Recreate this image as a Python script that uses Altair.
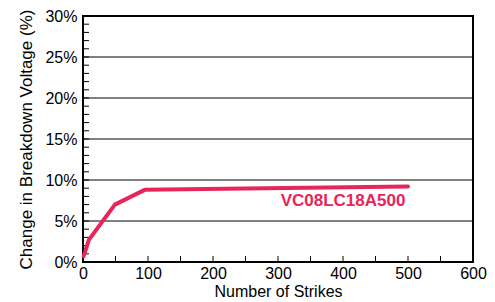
import altair as alt
import pandas as pd

# Data
strikes = [1, 9, 49, 95, 500]
change_pct = [0.7, 2.7, 7.0, 8.8, 9.2]
series_name = "VC08LC18A500"
label_x = [400]
label_y = [7.4]

x_minor_ticks = list(range(0, 601, 50))
y_minor_ticks = list(range(0, 31, 1))
y_grid = [5, 10, 15, 20, 25]
frame_x = [0, 600]
frame_y = [0, 30]

RED = "#E8255A"
FONT = "Liberation Sans"
W, H = 390, 246

df = pd.DataFrame({"strikes": strikes, "change": change_pct})
lab = pd.DataFrame({"x": label_x, "y": label_y, "t": [series_name]})
xt = pd.DataFrame({"v": x_minor_ticks})
yt = pd.DataFrame({"v": y_minor_ticks})
yg = pd.DataFrame({"v": y_grid})
fx = pd.DataFrame({"v": frame_x})
fy = pd.DataFrame({"v": frame_y})

xscale = alt.Scale(domain=[0, 600], nice=False, zero=True)
yscale = alt.Scale(domain=[0, 30], nice=False, zero=True)

xaxis = alt.Axis(
    title="Number of Strikes", values=[0, 100, 200, 300, 400, 500, 600],
    grid=False, ticks=False, domain=False, labelFont=FONT, labelFontSize=16,
    labelColor="black", labelPadding=3, titleFont=FONT, titleFontSize=16,
    titleFontWeight="normal", titleColor="black", titlePadding=2,
    labelFlush=False,
)
yaxis = alt.Axis(
    title="Change in Breakdown Voltage (%)", values=[0, 5, 10, 15, 20, 25, 30],
    labelExpr="datum.value + '%'", grid=False, ticks=False, domain=False,
    labelFont=FONT, labelFontSize=16, labelColor="black", labelPadding=6,
    titleFont=FONT, titleFontSize=17, titleFontWeight="normal",
    titleColor="black", titlePadding=9, labelFlush=False,
)

grid = alt.Chart(yg).mark_rule(color="black", strokeWidth=1).encode(
    y=alt.Y("v:Q", scale=yscale, axis=yaxis)
)

frame_v = alt.Chart(fx).mark_rule(color="black", strokeWidth=2).encode(
    x=alt.X("v:Q", scale=xscale), y=alt.value(-1), y2=alt.value(H + 1)
)
frame_h = alt.Chart(fy).mark_rule(color="black", strokeWidth=2).encode(
    y=alt.Y("v:Q", scale=yscale), x=alt.value(-1), x2=alt.value(W + 1)
)

line = alt.Chart(df).mark_line(color=RED, strokeWidth=4, strokeCap="round", strokeJoin="round").encode(
    x=alt.X("strikes:Q", scale=xscale, axis=xaxis),
    y=alt.Y("change:Q", scale=yscale),
)

xticks = alt.Chart(xt).mark_rule(color="black", strokeWidth=1).encode(
    x=alt.X("v:Q", scale=xscale),
    y=alt.value(H), y2=alt.value(H - 6),
)
yticks = alt.Chart(yt).mark_rule(color="black", strokeWidth=1).encode(
    y=alt.Y("v:Q", scale=yscale),
    x=alt.value(0), x2=alt.value(6),
)

text = alt.Chart(lab).mark_text(
    color=RED, font=FONT, fontSize=17, fontWeight="bold", align="center", baseline="middle"
).encode(
    x=alt.X("x:Q", scale=xscale), y=alt.Y("y:Q", scale=yscale), text="t:N"
)

chart = alt.layer(grid, xticks, yticks, frame_v, frame_h, line, text).properties(
    width=W, height=H,
    autosize=alt.AutoSizeParams(type="none"),
    padding={"left": 75, "top": 8, "right": 14, "bottom": 42},
).configure_view(stroke=None).configure(background="white")

chart.save("out.html", embed_options={"renderer": "svg", "actions": False})
